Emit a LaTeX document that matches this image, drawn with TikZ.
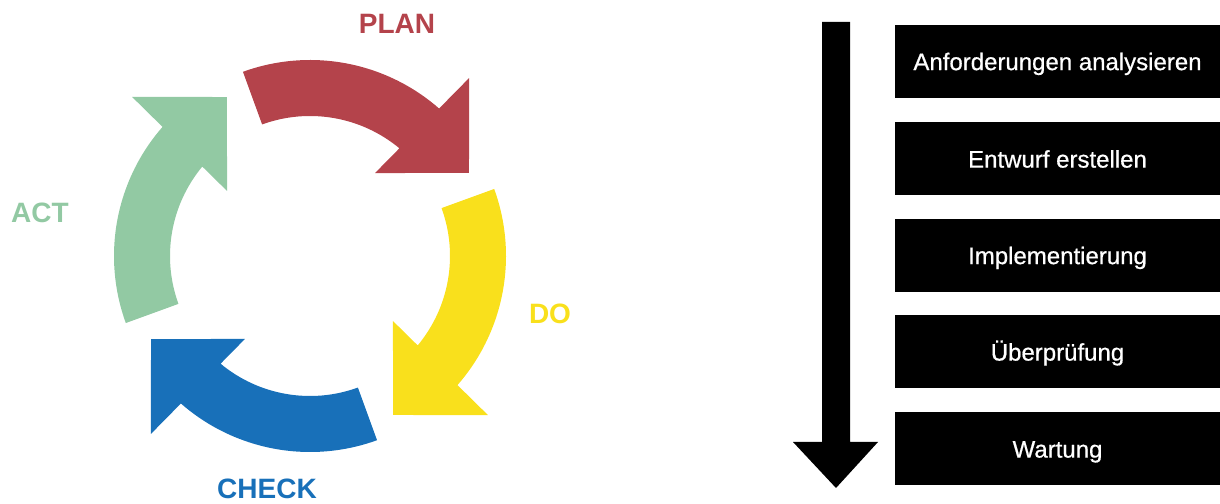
\documentclass[tikz,border=0pt]{standalone}
\usepackage{fontspec}
\setmainfont{Liberation Sans}
\newfontfamily\stagefont{Liberation Sans}[FakeBold=0.6]
\definecolor{pdcared}{HTML}{B4434B}
\definecolor{pdcayellow}{HTML}{F9E01C}
\definecolor{pdcablue}{HTML}{1870B9}
\definecolor{pdcagreen}{HTML}{92C9A3}
\newcommand\pdcaarrow[2]{%
  \fill[#2] ({110+#1}:196pt) arc[start angle={110+#1}, end angle={48.8+#1}, radius=196pt]
    -- ({48.2+#1}:238.7pt) -- ({27.6+#1}:179.4pt) -- ({51.9+#1}:105.4pt)
    -- ({50.3+#1}:140pt) arc[start angle={50.3+#1}, end angle={110+#1}, radius=140pt] -- cycle;}
\tikzset{
  lbl/.style={font=\fontsize{28}{28}\selectfont\bfseries, inner sep=0pt},
  stage/.style={fill=black, text=white, minimum width=325pt, minimum height=73pt,
    inner sep=0pt, text height=22pt, text depth=4.8pt,
    font=\stagefont\fontsize{24}{24}\selectfont}
}
\begin{document}
\begin{tikzpicture}[x=1pt,y=1pt]
\useasboundingbox (0,0) rectangle (1220,503);
% PDCA cycle
\begin{scope}[shift={(310,247)}]
  \pdcaarrow{0}{pdcared}
  \pdcaarrow{-90}{pdcayellow}
  \pdcaarrow{-180}{pdcablue}
  \pdcaarrow{-270}{pdcagreen}
\end{scope}
\node[lbl, text=pdcared] (plan) at (397,479) {PLAN};
\node[lbl, text=pdcayellow] (do) at (550,189) {DO};
\node[lbl, text=pdcablue] (check) at (267,14) {CHECK};
\node[lbl, text=pdcagreen] (act) at (40,290) {ACT};
% vertical arrow
\fill[black] (822,481) -- (850,481) -- (850,61) -- (878,61) -- (836,15) -- (793,61) -- (822,61) -- cycle;
% stages
\node[stage] (s1) at (1057.5,441.5) {Anforderungen analysieren};
\node[stage] (s2) at (1057.5,344) {Entwurf erstellen};
\node[stage] (s3) at (1057.5,247.5) {Implementierung};
\node[stage] (s4) at (1057.5,151) {Überprüfung};
\node[stage] (s5) at (1057.5,54) {Wartung};
\end{tikzpicture}
\end{document}
